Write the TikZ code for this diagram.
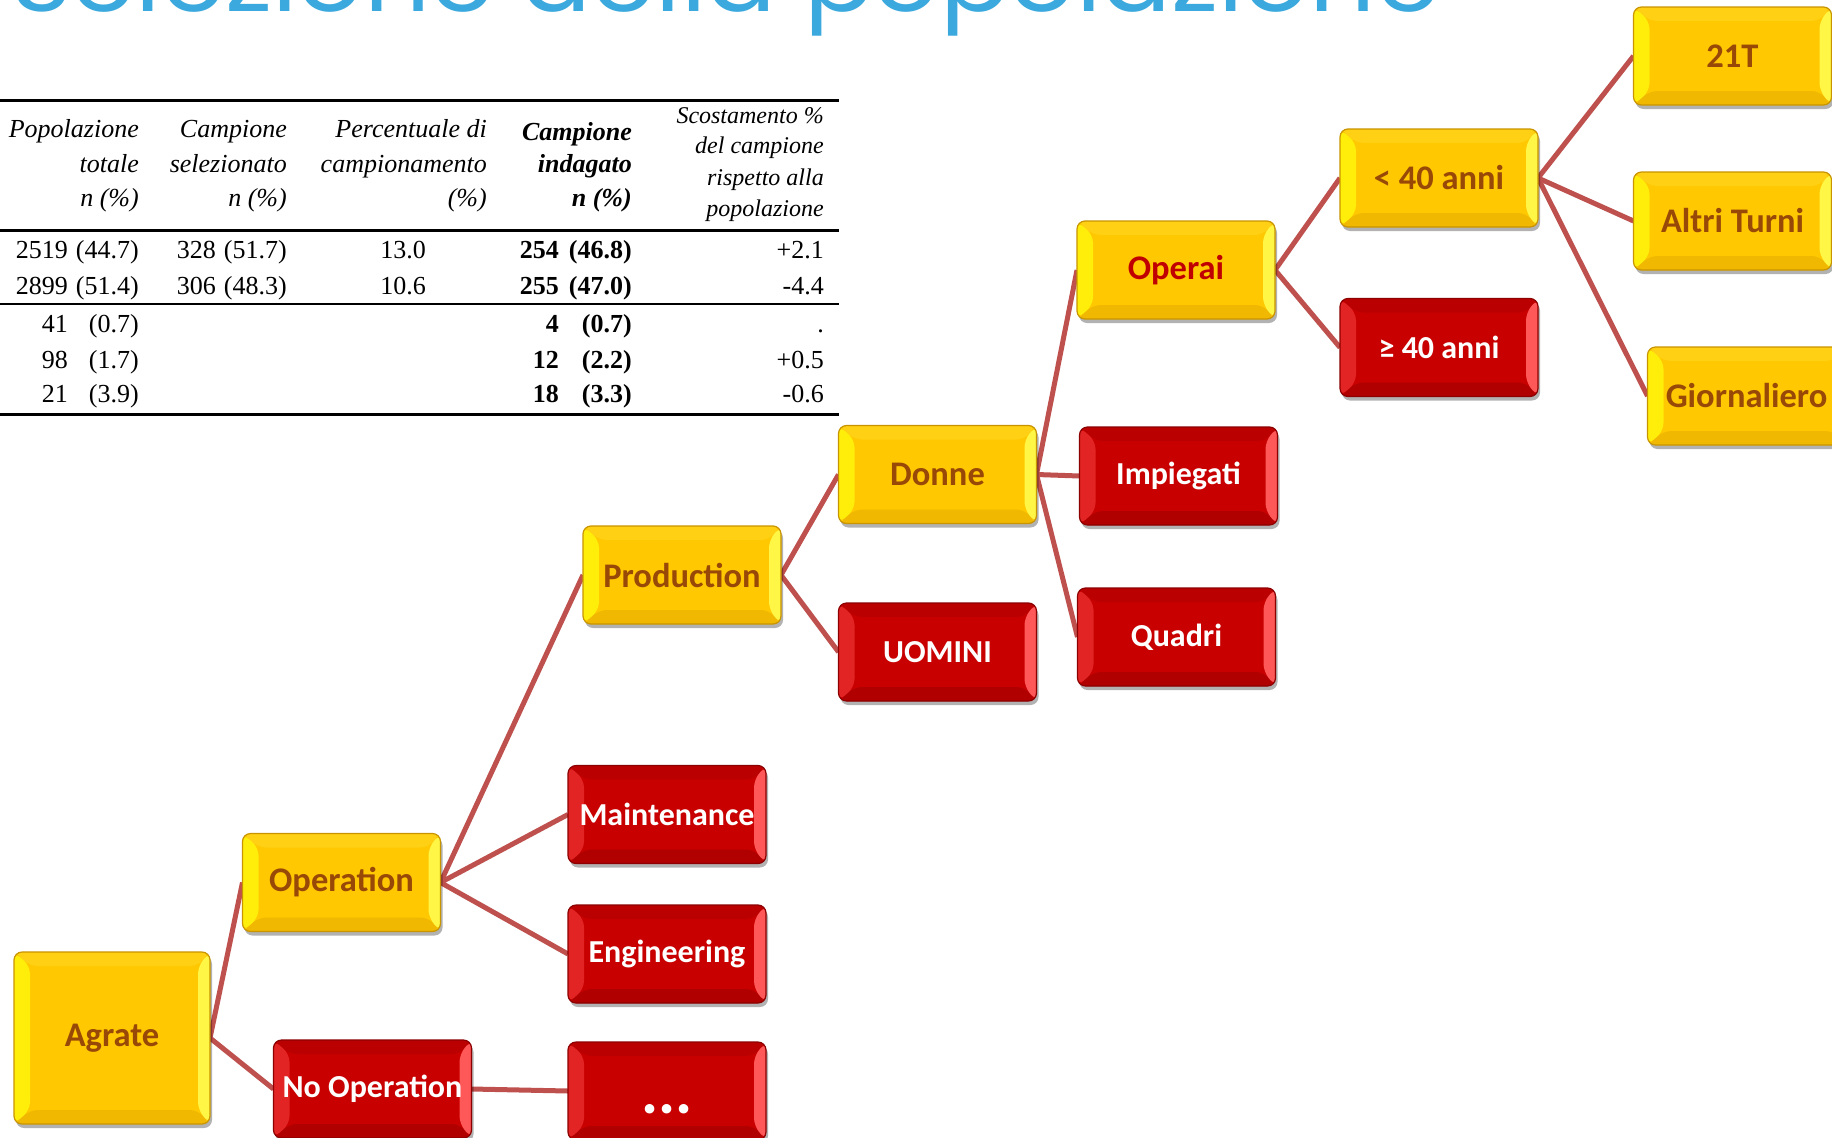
\documentclass[tikz,border=0pt]{standalone}
\usepackage{fontspec}
\newfontfamily\titlefam{Poppins}
\newfontfamily\boxfam{Carlito}
\newfontfamily\tabfam{Liberation Serif}
\usetikzlibrary{shadows,backgrounds}
\definecolor{titleblue}{RGB}{59,169,221}
\definecolor{yface}{RGB}{255,200,0}
\definecolor{ytop}{RGB}{255,208,20}
\definecolor{ybot}{RGB}{240,184,0}
\definecolor{yleft}{RGB}{255,238,10}
\definecolor{yright}{RGB}{255,246,70}
\definecolor{yedge}{RGB}{200,148,0}
\definecolor{ytext}{RGB}{152,72,7}
\definecolor{opred}{RGB}{192,0,0}
\definecolor{rface}{RGB}{200,0,0}
\definecolor{rtop}{RGB}{186,0,0}
\definecolor{rbot}{RGB}{176,0,0}
\definecolor{rleft}{RGB}{226,36,36}
\definecolor{rright}{RGB}{255,88,88}
\definecolor{redge}{RGB}{140,0,0}
\definecolor{conncol}{RGB}{190,80,77}
\newcommand\boxfont{\boxfam\bfseries\fontsize{32}{38}\selectfont}
\newcommand\yboxfont{\boxfam\bfseries\fontsize{34.5}{40}\selectfont}
\newcommand\tabfont{\tabfam\fontsize{26}{30}\selectfont}
\newcommand\tabsmall{\tabfam\fontsize{24}{28}\selectfont}
\newcommand\nn[2]{\makebox[52pt][r]{#1}\hspace{8pt}\makebox[63pt][r]{#2}}
\newcommand\nnb[2]{\makebox[52pt][r]{#1}\hspace{3pt}\makebox[70pt][r]{#2}}
\newcommand\bevel[4]{%
  \coordinate (bNW) at (path picture bounding box.north west);
  \coordinate (bNE) at (path picture bounding box.north east);
  \coordinate (bSW) at (path picture bounding box.south west);
  \coordinate (bSE) at (path picture bounding box.south east);
  \fill[#1] (bNW) -- (bNE) -- ([shift={(-12pt,-14pt)}]bNE) -- ([shift={(16pt,-14pt)}]bNW) -- cycle;
  \fill[#2] (bSW) -- (bSE) -- ([shift={(-12pt,14pt)}]bSE) -- ([shift={(16pt,14pt)}]bSW) -- cycle;
  \fill[#3] (bNW) -- (bSW) -- ([shift={(16pt,14pt)}]bSW) -- ([shift={(16pt,-14pt)}]bNW) -- cycle;
  \fill[#4] (bNE) -- (bSE) -- ([shift={(-12pt,14pt)}]bSE) -- ([shift={(-12pt,-14pt)}]bNE) -- cycle;
}
\newlength\titlew
\tikzset{
  box/.style={rectangle, rounded corners=8pt, minimum width=198pt, minimum height=98pt,
    inner sep=0pt, outer sep=0pt, line width=1.2pt, font=\boxfont,
    drop shadow={shadow xshift=2pt, shadow yshift=-4pt, opacity=0.3, fill=black}},
  ybox/.style={box, font=\yboxfont, fill=yface, draw=yedge, text=ytext, path picture={\bevel{ytop}{ybot}{yleft}{yright}}},
  rbox/.style={box, fill=rface, draw=redge, text=white, path picture={\bevel{rtop}{rbot}{rleft}{rright}}},
  conn/.style={draw=conncol, line width=5pt},
  hdr/.style={anchor=base east, inner sep=0pt, font=\tabfont\itshape},
  hdrb/.style={anchor=base east, inner sep=0pt, font=\tabfont\bfseries\itshape},
  hdrs/.style={anchor=base east, inner sep=0pt, font=\tabsmall\itshape},
  dat/.style={anchor=base east, inner sep=0pt, font=\tabfont},
  datb/.style={anchor=base east, inner sep=0pt, font=\tabfont\bfseries},
  trule/.style={line width=3pt},
}
\begin{document}
\settowidth\titlew{\titlefam\fontsize{95}{100}\selectfont Selezione della popolazione}%
\pgfmathsetmacro\tsx{1429pt/\titlew}%
\begin{tikzpicture}[x=1pt,y=-1pt]
\useasboundingbox (0,0) rectangle (1832,1138);
\begin{scope}[on background layer]
\fill[white] (0,0) rectangle (1832,1138);
\end{scope}
\clip (0,0) rectangle (1832,1138);

% title (cut off at the top)
\node[anchor=base west, inner sep=0pt, text=titleblue, font=\titlefam\fontsize{95}{100}\selectfont] (title) at (11,11) {\scalebox{\tsx}[1]{Selezione della popolazione}};

% table rules
\draw[trule] (0,100) -- (839,100);
\draw[trule] (0,230) -- (839,230);
\draw[line width=1.5pt] (0,304) -- (839,304);
\draw[trule] (0,414) -- (839,414);

% headers
\node[hdr] (h11) at (139,137) {Popolazione};
\node[hdr] (h12) at (139,172) {totale};
\node[hdr] (h13) at (139,206) {n (\%)};
\node[hdr] (h21) at (287,137) {Campione};
\node[hdr] (h22) at (287,172) {selezionato};
\node[hdr] (h23) at (287,206) {n (\%)};
\node[hdr] (h31) at (487,137) {Percentuale di};
\node[hdr] (h32) at (487,172) {campionamento};
\node[hdr] (h33) at (487,206) {(\%)};
\node[hdrb] (h41) at (632,140) {Campione};
\node[hdrb] (h42) at (632,172) {indagato};
\node[hdrb] (h43) at (632,206) {n (\%)};
\node[hdrs] (h51) at (824,123) {Scostamento \%};
\node[hdrs] (h52) at (824,153) {del campione};
\node[hdrs] (h53) at (824,185) {rispetto alla};
\node[hdrs] (h54) at (824,216) {popolazione};

% data
\node[dat] (d11) at (139,258) {\nn{2519}{(44.7)}};
\node[dat] (d12) at (139,294) {\nn{2899}{(51.4)}};
\node[dat] (d13) at (139,332) {\nn{41}{(0.7)}};
\node[dat] (d14) at (139,368) {\nn{98}{(1.7)}};
\node[dat] (d15) at (139,402) {\nn{21}{(3.9)}};
\node[dat] (d21) at (287,258) {\nn{328}{(51.7)}};
\node[dat] (d22) at (287,294) {\nn{306}{(48.3)}};
\node[dat] (d31) at (426,258) {13.0};
\node[dat] (d32) at (426,294) {10.6};
\node[datb] (d41) at (632,258) {\nnb{254}{(46.8)}};
\node[datb] (d42) at (632,294) {\nnb{255}{(47.0)}};
\node[datb] (d43) at (632,332) {\nnb{4}{(0.7)}};
\node[datb] (d44) at (632,368) {\nnb{12}{(2.2)}};
\node[datb] (d45) at (632,402) {\nnb{18}{(3.3)}};
\node[dat] (d51) at (824,258) {+2.1};
\node[dat] (d52) at (824,294) {-4.4};
\node[dat] (d53) at (824,332) {.};
\node[dat] (d54) at (824,368) {+0.5};
\node[dat] (d55) at (824,402) {-0.6};

% tree
\node[ybox, minimum width=196pt, minimum height=172pt] (agrate) at (112,1038) {Agrate};
\node[ybox] (operation) at (341.5,882.5) {Operation};
\node[rbox] (noop) at (372.5,1089) {No Operation};
\node[ybox] (production) at (682,575) {Production};
\node[rbox] (maint) at (667,814.5) {Maintenance};
\node[rbox] (eng) at (667,954) {Engineering};
\node[rbox, text height=44pt, text depth=0pt, font=\boxfam\bfseries\fontsize{64}{70}\selectfont] (dots) at (667,1091) {...};
\node[ybox] (donne) at (937.5,474.5) {Donne};
\node[rbox] (uomini) at (937.5,652) {UOMINI};
\node[ybox, text=opred] (operai) at (1176,270) {Operai};
\node[rbox] (impiegati) at (1178.5,476) {Impiegati};
\node[rbox] (quadri) at (1176.5,637) {Quadri};
\node[ybox] (lt40) at (1439,178) {< 40 anni};
\node[rbox] (ge40) at (1439,347.5) {≥ 40 anni};
\node[ybox] (t21) at (1732.5,56) {21T};
\node[ybox] (altri) at (1732.5,221) {Altri Turni};
\node[ybox] (giorn) at (1746.5,396) {Giornaliero};

\begin{scope}[on background layer]
\draw[conn] (agrate.east) -- (operation.west);
\draw[conn] (agrate.east) -- (noop.west);
\draw[conn] (noop.east) -- (dots.west);
\draw[conn] (operation.east) -- (production.west);
\draw[conn] (operation.east) -- (maint.west);
\draw[conn] (operation.east) -- (eng.west);
\draw[conn] (production.east) -- (donne.west);
\draw[conn] (production.east) -- (uomini.west);
\draw[conn] (donne.east) -- (operai.west);
\draw[conn] (donne.east) -- (impiegati.west);
\draw[conn] (donne.east) -- (quadri.west);
\draw[conn] (operai.east) -- (lt40.west);
\draw[conn] (operai.east) -- (ge40.west);
\draw[conn] (lt40.east) -- (t21.west);
\draw[conn] (lt40.east) -- (altri.west);
\draw[conn] (lt40.east) -- (giorn.west);
\end{scope}
\end{tikzpicture}
\end{document}
